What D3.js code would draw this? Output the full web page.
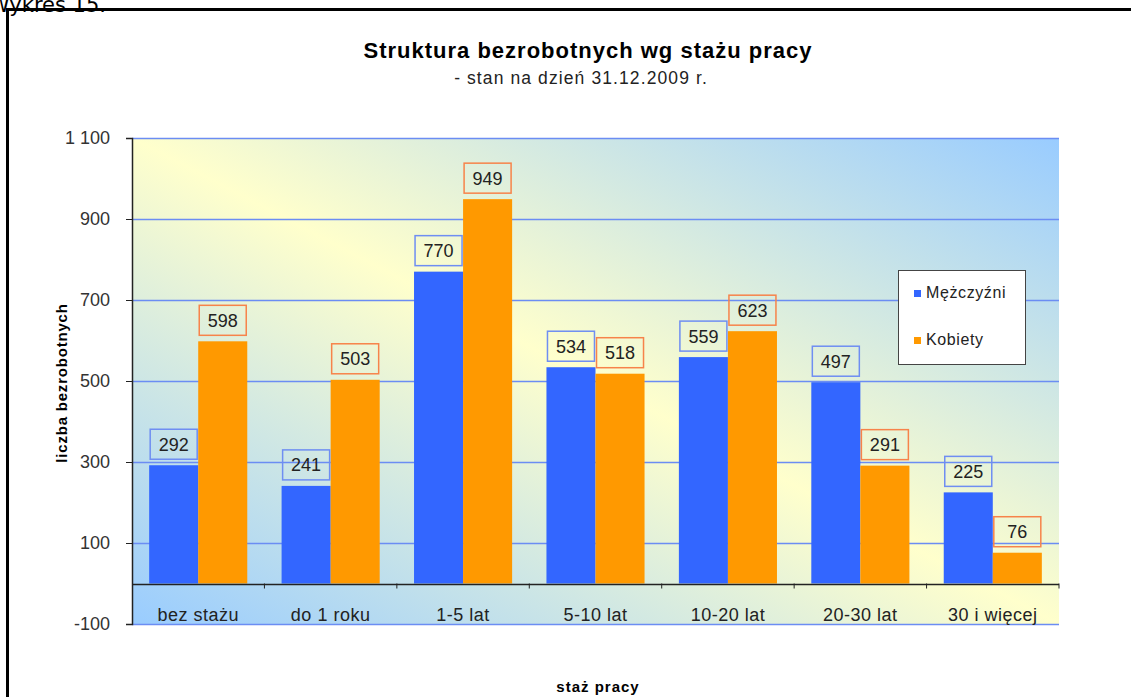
<!DOCTYPE html>
<html>
<head>
<meta charset="utf-8">
<script src="https://cdn.jsdelivr.net/npm/d3@7"></script>
<style>
  body { margin: 0; background: #fff; }
  svg { display: block; font-family: "Liberation Sans", Arial, sans-serif; }
</style>
</head>
<body>
<script>
// data
var categories = ["bez stażu", "do 1 roku", "1-5 lat", "5-10 lat", "10-20 lat", "20-30 lat", "30 i więcej"];
var men = [292, 241, 770, 534, 559, 497, 225];
var women = [598, 503, 949, 518, 623, 291, 76];
var seriesNames = ["Mężczyźni", "Kobiety"];
var yTicks = [-100, 100, 300, 500, 700, 900, 1100];

// size & plot area
var width = 1134;
var height = 697;
var plot = { left: 132, right: 1059, top: 138, bottom: 624 };

var colors = ["#3366FF", "#FF9900"];
var boxColors = ["#6F8EF2", "#F7834A"];

var svg = d3.select("body")
            .append("svg")
            .attr("width", width)
            .attr("height", height);

// background gradient of the plot (blue - yellow - blue, diagonal)
var defs = svg.append("defs");
var grad = defs.append("linearGradient")
               .attr("id", "bg")
               .attr("x1", 0).attr("y1", 1)
               .attr("x2", 1).attr("y2", 0);
grad.append("stop").attr("offset", 0).attr("stop-color", "#99CCFF");
grad.append("stop").attr("offset", 0.5).attr("stop-color", "#FFFFCC");
grad.append("stop").attr("offset", 1).attr("stop-color", "#99CCFF");

// outer frame (right side is cut off)
svg.append("path")
   .attr("d", "M1131,9.5H7.5V697")
   .attr("fill", "none")
   .attr("stroke", "#000")
   .attr("stroke-width", 3);

// page caption, cut by the page edge as in the original
svg.append("text")
   .attr("x", 106)
   .attr("y", 12)
   .attr("text-anchor", "end")
   .style("font-family", "'DejaVu Sans', Verdana, sans-serif")
   .style("font-size", "21px")
   .text("Wykres 15.");

// scales
var y = d3.scaleLinear()
          .domain([-100, 1100])
          .range([plot.bottom, plot.top]);
var x0 = d3.scaleBand()
           .domain(categories)
           .range([plot.left, plot.right])
           .padding(0);
var x1 = d3.scaleBand()
           .domain(seriesNames)
           .range([0, x0.bandwidth()])
           .paddingInner(0)
           .paddingOuter(0.35);

var fmt = d3.formatLocale({ decimal: ",", thousands: " ", grouping: [3], currency: ["", ""], minus: "-" }).format(",d");

svg.append("rect")
   .attr("x", plot.left)
   .attr("y", plot.top)
   .attr("width", plot.right - plot.left)
   .attr("height", plot.bottom - plot.top)
   .attr("fill", "url(#bg)");

// gridlines
svg.append("g")
   .selectAll("line")
   .data(yTicks)
   .enter().append("line")
   .attr("x1", plot.left)
   .attr("x2", plot.right)
   .attr("y1", function(d) { return Math.round(y(d)) + 0.5; })
   .attr("y2", function(d) { return Math.round(y(d)) + 0.5; })
   .attr("stroke", "#6B8DF3")
   .attr("stroke-width", 1.5);

// bars
var groups = svg.append("g")
                .selectAll("g")
                .data(categories)
                .enter().append("g")
                .attr("transform", function(d) { return "translate(" + x0(d) + ",0)"; });

var rows = function(d, i) {
  return [
    { s: 0, name: seriesNames[0], v: men[i] },
    { s: 1, name: seriesNames[1], v: women[i] }
  ];
};

groups.selectAll("rect")
      .data(rows)
      .enter().append("rect")
      .attr("x", function(d) { return x1(d.name); })
      .attr("width", x1.bandwidth())
      .attr("y", function(d) { return y(d.v); })
      .attr("height", function(d) { return y(0) - y(d.v); })
      .attr("fill", function(d) { return colors[d.s]; });

// value labels in boxes
var boxW = 47, boxH = 30;
var labels = groups.selectAll("g.lab")
                   .data(rows)
                   .enter().append("g")
                   .attr("class", "lab")
                   .attr("transform", function(d) {
                     return "translate(" + (x1(d.name) + x1.bandwidth() / 2) + "," + (y(d.v) - 6 - boxH) + ")";
                   });
labels.append("rect")
      .attr("x", -boxW / 2)
      .attr("y", 0)
      .attr("width", boxW)
      .attr("height", boxH)
      .attr("fill", "none")
      .attr("stroke", function(d) { return boxColors[d.s]; })
      .attr("stroke-width", 1.5);
labels.append("text")
      .attr("x", 0)
      .attr("y", boxH / 2 + 6.5)
      .attr("text-anchor", "middle")
      .style("font-size", "18px")
      .attr("fill", "#222")
      .text(function(d) { return d.v; });

// y axis
var yAxis = svg.append("g")
               .attr("transform", "translate(" + plot.left + ",0)")
               .call(d3.axisLeft(y).tickValues(yTicks).tickFormat(fmt).tickSize(6).tickPadding(16));
yAxis.select(".domain").attr("stroke", "#222").attr("stroke-width", 1.5);
yAxis.selectAll(".tick line").attr("stroke", "#222");
yAxis.selectAll("text")
     .style("font-size", "18px")
     .style("font-family", "'Liberation Sans', Arial, sans-serif")
     .attr("fill", "#333");

// category axis at zero
var xAxisLine = svg.append("g");
xAxisLine.append("line")
         .attr("x1", plot.left)
         .attr("x2", plot.right)
         .attr("y1", Math.round(y(0)) + 0.5)
         .attr("y2", Math.round(y(0)) + 0.5)
         .attr("stroke", "#222")
         .attr("stroke-width", 1.5);
xAxisLine.selectAll("line.t")
         .data(categories)
         .enter().append("line")
         .attr("class", "t")
         .attr("x1", function(d) { return x0(d) + x0.bandwidth(); })
         .attr("x2", function(d) { return x0(d) + x0.bandwidth(); })
         .attr("y1", y(0))
         .attr("y2", y(0) + 5)
         .attr("stroke", "#222");
xAxisLine.selectAll("text")
         .data(categories)
         .enter().append("text")
         .attr("x", function(d) { return x0(d) + x0.bandwidth() / 2; })
         .attr("y", 621)
         .attr("text-anchor", "middle")
         .style("font-size", "18px")
         .style("letter-spacing", "0.5px")
         .attr("fill", "#222")
         .text(function(d) { return d; });

// titles
svg.append("text")
   .attr("x", 588)
   .attr("y", 58)
   .attr("text-anchor", "middle")
   .style("font-size", "22px")
   .style("font-weight", "bold")
   .style("letter-spacing", "1px")
   .text("Struktura bezrobotnych wg stażu pracy");
svg.append("text")
   .attr("x", 581)
   .attr("y", 84)
   .attr("text-anchor", "middle")
   .style("font-size", "17.5px")
   .style("letter-spacing", "1.1px")
   .attr("fill", "#222")
   .text("- stan na dzień 31.12.2009 r.");
svg.append("text")
   .attr("transform", "translate(67,383) rotate(-90)")
   .attr("text-anchor", "middle")
   .style("font-size", "15px")
   .style("font-weight", "bold")
   .style("letter-spacing", "0.8px")
   .text("liczba bezrobotnych");
svg.append("text")
   .attr("x", 598)
   .attr("y", 692)
   .attr("text-anchor", "middle")
   .style("font-size", "15px")
   .style("font-weight", "bold")
   .style("letter-spacing", "1px")
   .text("staż pracy");

// legend
var legendBox = { x: 898, y: 270, width: 127, height: 94 };
svg.append("rect")
   .attr("x", legendBox.x + 0.5)
   .attr("y", legendBox.y + 0.5)
   .attr("width", legendBox.width)
   .attr("height", legendBox.height)
   .attr("fill", "#fff")
   .attr("stroke", "#444");
var legend = svg.selectAll("g.legend")
                .data(seriesNames)
                .enter().append("g")
                .attr("class", "legend")
                .attr("transform", function(d, i) { return "translate(" + (legendBox.x + 16) + "," + (legendBox.y + 20 + i * 47) + ")"; });
legend.append("rect")
      .attr("width", 7)
      .attr("height", 7)
      .attr("fill", function(d, i) { return colors[i]; });
legend.append("text")
      .attr("x", 12)
      .attr("y", 8)
      .style("font-size", "16px")
      .style("letter-spacing", "0.6px")
      .attr("fill", "#222")
      .text(function(d) { return d; });
</script>
</body>
</html>
